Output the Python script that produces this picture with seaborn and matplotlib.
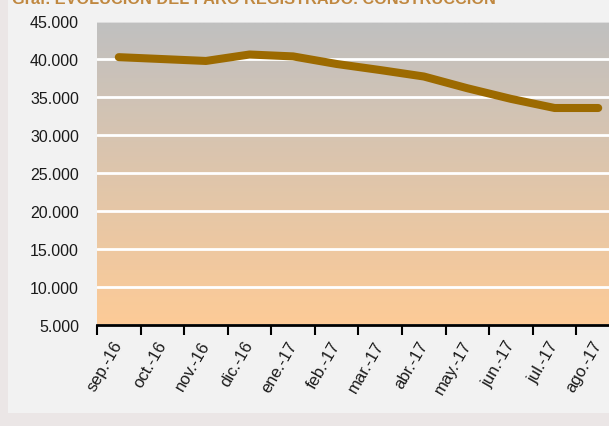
import numpy as np
import pandas as pd
import matplotlib.pyplot as plt
import seaborn as sns
from matplotlib.patches import Rectangle
from matplotlib.colors import LinearSegmentedColormap

months = ["sep.-16", "oct.-16", "nov.-16", "dic.-16", "ene.-17", "feb.-17",
          "mar.-17", "abr.-17", "may.-17", "jun.-17", "jul.-17", "ago.-17"]
paro = [40300, 40050, 39800, 40650, 40400, 39400,
        38600, 37750, 36200, 34800, 33600, 33600]
yticks = [5000, 10000, 15000, 20000, 25000, 30000, 35000, 40000, 45000]
title = "Gráf. EVOLUCIÓN DEL PARO REGISTRADO. CONSTRUCCIÓN"

data = pd.DataFrame({"mes": months, "parados": paro})

sns.set_theme(style="white")
plt.rcParams["font.family"] = ["Liberation Sans", "DejaVu Sans"]

fig = plt.figure(figsize=(6.09, 4.27), dpi=100, facecolor="#ebe6e6")
fig.patches.append(Rectangle((8 / 609, 13 / 427), 1, 1, transform=fig.transFigure,
                             facecolor="#f2f2f2", edgecolor="none", zorder=-5))

ax = fig.add_axes([97 / 609, 101 / 427, 523 / 609, 303.5 / 427])
ax.set_zorder(2)
ax.set_facecolor("none")

# vertical gradient background, grey on top to peach at the bottom
cmap = LinearSegmentedColormap.from_list("bg", ["#fdcb97", "#c0c0c0"])
grad = np.linspace(0, 1, 256).reshape(-1, 1)
ax.imshow(grad, cmap=cmap, origin="lower", aspect="auto",
          extent=(-0.5, 11.5, 5000, 44700), zorder=0)

sns.lineplot(data=data, x="mes", y="parados", ax=ax, color="#9c6a00",
             linewidth=5.8, solid_capstyle="round", zorder=3, sort=False)

ax.set_xlim(-0.5, 11.5)
ax.set_ylim(5000, 45000)
ax.set_yticks(yticks)
ax.set_yticklabels([f"{v:,}".replace(",", ".") for v in yticks])
ax.yaxis.grid(True, color="white", linewidth=2)
ax.set_axisbelow(False)
for gl in ax.get_ygridlines():
    gl.set_zorder(1)
ax.get_ygridlines()[-1].set_color("#d9d9d9")
ax.get_ygridlines()[-1].set_linewidth(1.2)

ax.set_xticks(range(len(months)))
ax.set_xticklabels(months, rotation=60, ha="right", va="center",
                   rotation_mode="anchor")
ax.set_xticks(np.arange(-0.5, 12, 1), minor=True)
ax.tick_params(axis="x", which="major", length=0, pad=12, labelsize=12,
               labelcolor="#1a1a1a")
ax.tick_params(axis="x", which="minor", length=7, width=1.5, color="black",
               direction="out", bottom=True)
ax.tick_params(axis="y", length=0, pad=13, labelsize=11.5, labelcolor="#1a1a1a")
ax.set_xlabel("")
ax.set_ylabel("")

for s in ["left", "right", "top"]:
    ax.spines[s].set_visible(False)
ax.spines["bottom"].set_color("black")
ax.spines["bottom"].set_linewidth(2)
ax.spines["bottom"].set_zorder(4)

fig.text(12 / 609, 1 - 4.5 / 427, title, fontsize=11.8, fontweight="bold",
         color="#c08840", ha="left", va="baseline")

fig.savefig("out.png", dpi=100, facecolor=fig.get_facecolor())
